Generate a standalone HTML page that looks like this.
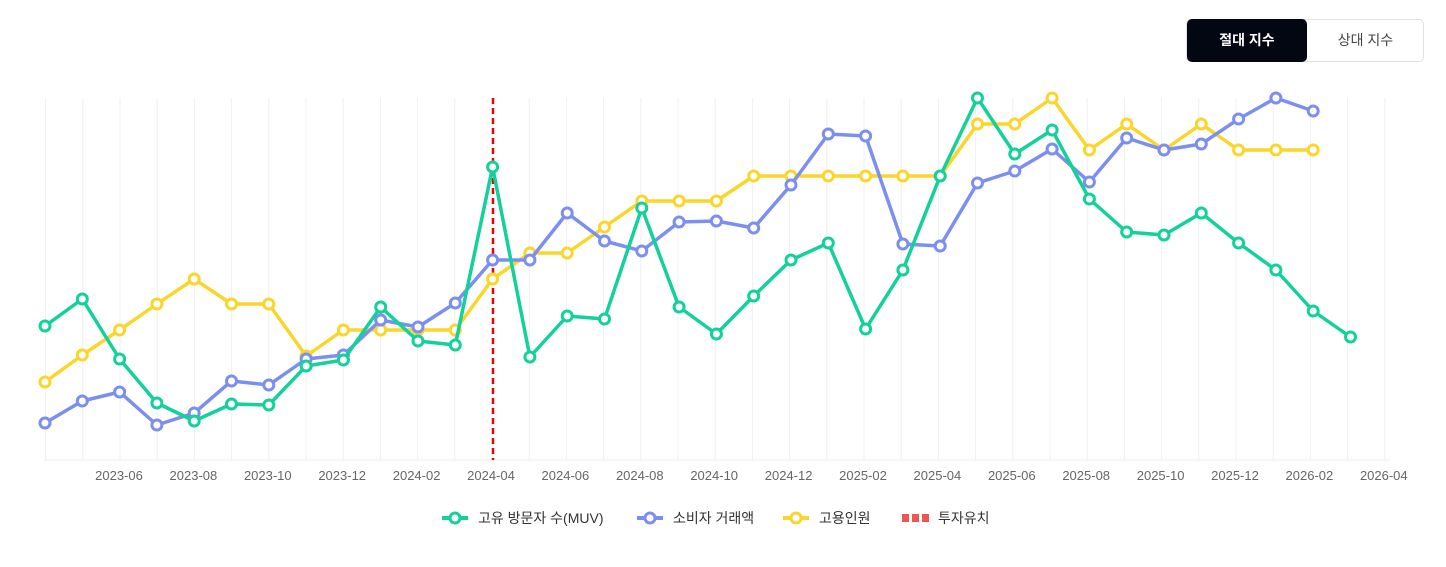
<!DOCTYPE html>
<html><head><meta charset="utf-8"><style>
body{margin:0;background:#fff;font-family:"Liberation Sans","Noto Sans CJK KR",sans-serif;}
.btns{position:absolute;left:1186px;top:19px;width:238px;height:43px;border:1px solid #e2e2e2;border-radius:5px;box-sizing:border-box;}
.b1{position:absolute;left:0;top:-1px;width:120px;height:43px;background:#030712;color:#fff;border-radius:5px;font-weight:bold;font-size:14px;text-align:center;line-height:43px;}
.b2{position:absolute;left:120px;top:0;width:117px;height:41px;color:#444;font-size:14px;text-align:center;line-height:41px;}
</style></head><body>
<div class="btns"><div class="b1">절대 지수</div><div class="b2">상대 지수</div></div>
<svg id="s" width="1446" height="567" style="position:absolute;left:0;top:0" xmlns="http://www.w3.org/2000/svg"></svg>
<script>
const s=document.getElementById('s');let h='';
const X=i=>45+37.3*i;
const L=i=>45.6+37.2*i;
for(let i=0;i<=36;i++){h+=`<line x1="${L(i)}" y1="98" x2="${L(i)}" y2="460" stroke="#f0f0f0" stroke-width="1"/>`;}
h+=`<line x1="44" y1="460" x2="1390" y2="460" stroke="#eee"/>`;
const labs=['2023-06','2023-08','2023-10','2023-12','2024-02','2024-04','2024-06','2024-08','2024-10','2024-12','2025-02','2025-04','2025-06','2025-08','2025-10','2025-12','2026-02','2026-04'];
labs.forEach((l,k)=>{h+=`<text x="${L(2+2*k)-1}" y="480" font-size="13" fill="#666" text-anchor="middle">${l}</text>`;});
h+=`<line x1="493" y1="98" x2="493" y2="460" stroke="#e00" stroke-width="2.5" stroke-dasharray="6,4"/>`;
const G=[326,299,359,403,421,404,405,366,360,307,341,345,167,357,316,319,208,307,334,296,260,243,329,270,176,98,154,130,199,232,235,213,243,270,311,337];
const B=[423,401,392,425,413,381,385,359,355,320,327,303,260,260,213,241,251,222,221,228,185,134,136,244,246,183,171,149,182,138,150,144,119,98,111];
const Y=[382,355,330,304,279,304,304,356,330,330,330,330,279,253,253,227,201,201,201,176,176,176,176,176,176,124,124,98,150,124,150,124,150,150,150];
function ser(a,c){h+=`<polyline fill="none" stroke="${c}" stroke-width="3.5" stroke-linejoin="round" points="${a.map((v,i)=>X(i)+','+v).join(' ')}"/>`;
a.forEach((v,i)=>h+=`<circle cx="${X(i)}" cy="${v}" r="5" fill="#fff" stroke="${c}" stroke-width="3"/>`);}
ser(Y,'#fad52c');ser(B,'#7b8ff0');ser(G,'#13d19a');
function leg(x,c,t){h+=`<line x1="${x}" y1="518" x2="${x+26}" y2="518" stroke="${c}" stroke-width="4"/><circle cx="${x+13}" cy="518" r="5" fill="#fff" stroke="${c}" stroke-width="3"/><text x="${x+36}" y="523" font-size="14" fill="#333">${t}</text>`;}
leg(442,'#13d19a','고유 방문자 수(MUV)');leg(637,'#7b8ff0','소비자 거래액');leg(783,'#fad52c','고용인원');
[0,1,2].forEach(k=>h+=`<rect x="${902+k*10}" y="514" width="7" height="8" fill="#e55"/>`);
h+=`<text x="938" y="523" font-size="14" fill="#333">투자유치</text>`;
s.innerHTML=h;
</script>
</body></html>
